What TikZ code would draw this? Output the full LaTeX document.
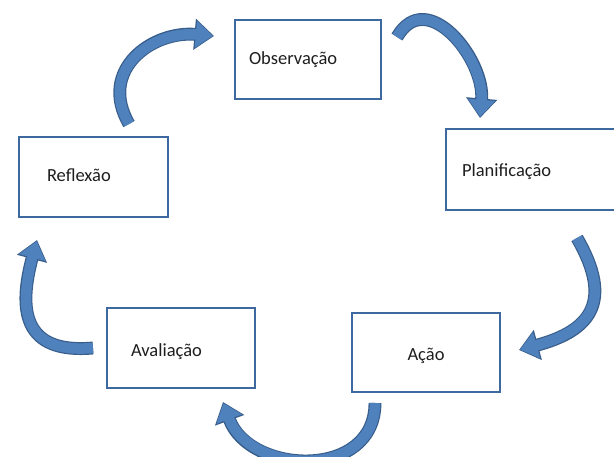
\documentclass[tikz,border=0pt]{standalone}
\usepackage{fontspec}
\setmainfont{Carlito}
\usetikzlibrary{arrows.meta}

\definecolor{boxblue}{RGB}{61,105,158}
\definecolor{flowblue}{RGB}{79,129,189}
\definecolor{flowdark}{RGB}{56,93,138}
\definecolor{textgray}{RGB}{30,30,30}

\newcommand{\shiftlabel}[2]{\raisebox{#1}[\height][\depth]{#2}}

\tikzset{
  stage/.style={draw=boxblue, line width=2.2pt, minimum height=80pt, align=left,
    text=textgray, font=\fontsize{18.5}{22}\selectfont},
  cyclearrow/.style={draw=flowblue, line width=10.5pt, looseness=1.3,
    -{Triangle[length=17pt,width=26pt]}, shorten >=1.2pt,
    preaction={draw=flowdark, line width=12.9pt, -{Triangle[length=19.5pt,width=30pt]}, shorten >=0pt}},
}

\begin{document}
\begin{tikzpicture}[x=1pt, y=1pt]
\useasboundingbox (0,0) rectangle (614,457);

% the five stages
\node[stage, text width=118pt, inner xsep=14pt, minimum height=79pt] (obs) at (308,397.5) {Observação};
\node[stage, text width=148pt, inner xsep=16pt, minimum height=81pt] (plan) at (536,287.5) {\shiftlabel{-2pt}{Planificação}};
\node[stage, text width=128pt, inner xsep=10pt, minimum height=79pt, align=center] (acao) at (426,104.5) {\shiftlabel{-3pt}{Ação}};
\node[stage, text width=100pt, inner xsep=24pt] (aval) at (181,109) {\shiftlabel{-4pt}{Avaliação}};
\node[stage, text width=93pt, inner xsep=28pt] (refl) at (93.5,280) {\shiftlabel{2pt}{Reflexão}};

% ends of the curved arrows
\coordinate (refl-out) at (129,333);
\coordinate (obs-in) at (214,421);
\coordinate (obs-out) at (397,420);
\coordinate (plan-in) at (480,339);
\coordinate (plan-out) at (577,219);
\coordinate (acao-in) at (519,107);
\coordinate (acao-out) at (375,54);
\coordinate (aval-in) at (223,55);
\coordinate (aval-out) at (93,109);
\coordinate (refl-in) at (37,217);

\draw[cyclearrow] (refl-out) to[out=120, in=175] (obs-in);
\draw[cyclearrow] (obs-out) to[out=60, in=85] (plan-in);
\draw[cyclearrow, looseness=1.5] (plan-out) to[out=-60, in=15] (acao-in);
\draw[cyclearrow] (acao-out) to[out=-90, in=-70] (aval-in);
\draw[cyclearrow, looseness=1.5] (aval-out) to[out=185, in=-105] (refl-in);
\end{tikzpicture}
\end{document}
